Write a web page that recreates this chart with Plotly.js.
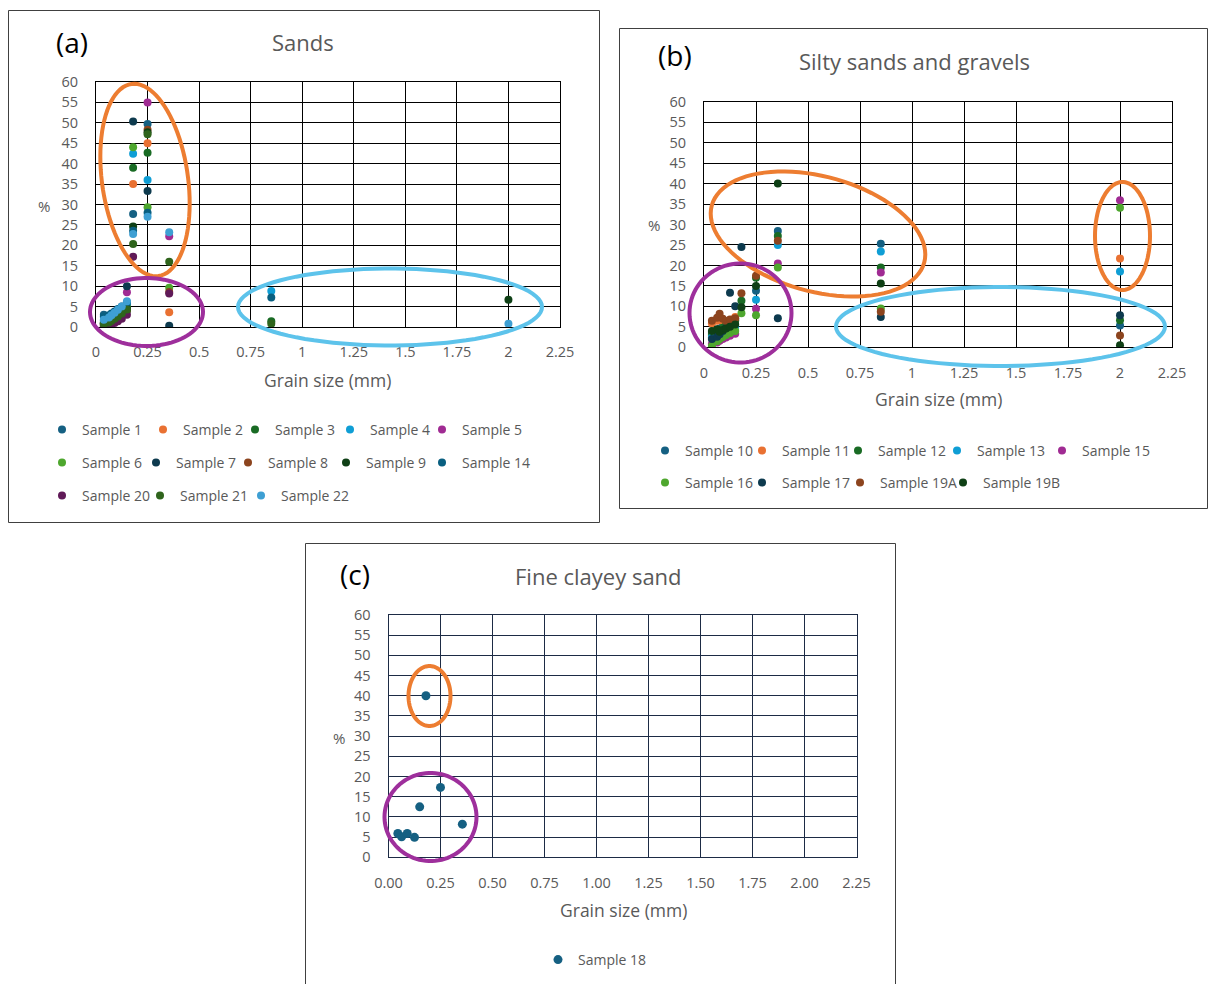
<!DOCTYPE html>
<html><head><meta charset="utf-8">
<script src="https://cdn.plot.ly/plotly-3.0.1.min.js"></script>
<style>html,body{margin:0;padding:0;background:#fff}#chart{width:1208px;height:984px}</style>
</head><body><div id="chart"></div>
<script>
const W = 1208, H = 984;
const FONT = "Open Sans, Liberation Sans, sans-serif";
const GRAY = "#595959";

// ---------- Panel (a) Sands ----------
const sizesA = [0.038, 0.063, 0.075, 0.09, 0.106, 0.125, 0.15, 0.18, 0.25, 0.355, 0.85, 2];
const namesA = ["Sample 1","Sample 2","Sample 3","Sample 4","Sample 5","Sample 6","Sample 7","Sample 8","Sample 9","Sample 14","Sample 20","Sample 21","Sample 22"];
const sample1  = [3.0, 2.0, 2.4, 2.8, 3.3, 4.1, 5.2, 27.7, 49.7, null, null, null];
const sample2  = [1.2, 1.5, 1.9, 2.4, 2.8, 3.5, 4.5, 35.0, 45.0, 3.6, null, null];
const sample3  = [0.8, 1.2, 1.6, 2.1, 2.6, 3.2, 4.0, 39.0, 42.7, null, 1.4, null];
const sample4  = [1.5, 2.0, 2.6, 3.2, 3.9, 4.6, 5.8, 42.4, 36.0, null, 8.8, null];
const sample5  = [0.4, 0.7, 1.0, 1.4, 2.0, 3.0, 8.5, null, 55.0, 22.2, null, null];
const sample6  = [1.0, 1.4, 1.9, 2.5, 3.0, 3.8, 4.8, 44.0, 29.3, 9.6, null, null];
const sample7  = [0.9, 1.3, 1.8, 2.4, 3.2, 4.5, 10.0, 50.3, 33.3, 0.3, null, null];
const sample8  = [0.6, 0.9, 1.3, 1.8, 2.4, 3.1, 4.2, null, 48.3, 8.6, null, null];
const sample9  = [1.0, 1.4, 1.8, 2.3, 2.9, 3.6, 4.6, 24.6, 47.7, null, null, 6.7];
const sample14 = [2.5, 2.9, 3.3, 3.8, 4.4, 5.0, 6.0, 23.6, 28.0, null, 7.2, null];
const sample20 = [0.2, 0.4, 0.7, 1.0, 1.4, 2.0, 3.0, 17.2, null, 8.2, null, null];
const sample21 = [0.7, 1.1, 1.5, 2.0, 2.6, 3.3, 4.3, 20.3, 47.2, 16.0, 0.8, null];
const sample22 = [1.8, 2.3, 2.9, 3.5, 4.2, 5.0, 6.3, 22.8, 27.0, 23.2, null, 0.8];
const valuesA = [sample1, sample2, sample3, sample4, sample5, sample6, sample7, sample8, sample9, sample14, sample20, sample21, sample22];

// ---------- Panel (b) Silty sands and gravels ----------
const sizesB = [0.038, 0.063, 0.075, 0.09, 0.106, 0.125, 0.15, 0.18, 0.25, 0.355, 0.85, 2];
const namesB = ["Sample 10","Sample 11","Sample 12","Sample 13","Sample 15","Sample 16","Sample 17","Sample 19A","Sample 19B"];
const sample10  = [3.5, 4.0, 4.6, 5.0, 5.5, 6.0, 6.8, null, 13.8, 28.4, 25.3, 5.3];
const sample11  = [5.8, 6.5, 7.2, 6.4, 6.0, 6.6, 7.4, null, null, null, null, 21.7];
const sample12  = [3.0, 3.6, 4.2, 4.8, 5.3, 5.9, 6.5, 11.4, 17.0, 27.2, 19.5, 6.6];
const sample13  = [2.4, 2.8, 3.2, 3.6, 4.0, 4.5, 5.0, null, 11.6, 25.0, 23.4, 18.5];
const sample15  = [0.8, 1.2, 1.6, 2.0, 2.4, 2.8, 3.3, null, 9.4, 20.5, 18.3, 35.9];
const sample16  = [0.3, 1.5, 2.0, 2.5, 3.0, 3.5, 4.0, 8.3, 7.8, 19.5, 9.5, 34.1];
const sample17  = [2.0, 2.6, 3.2, 4.0, 4.8, 13.3, 10.0, 24.5, null, 7.1, 7.4, 7.8];
const sample19A = [6.5, 7.2, 8.2, 7.0, 6.4, 6.8, 7.1, 13.2, 17.5, 26.0, 8.7, 2.9];
const sample19B = [4.0, 4.4, 3.8, 4.2, 4.6, 5.0, 5.6, 9.8, 15.0, 40.0, 15.6, 0.5];
const valuesB = [sample10, sample11, sample12, sample13, sample15, sample16, sample17, sample19A, sample19B];

// ---------- Panel (c) Fine clayey sand ----------
const sizesC = [0.045, 0.063, 0.09, 0.125, 0.15, 0.18, 0.25, 0.355];
const sample18 = [5.9, 5.1, 5.9, 4.95, 12.5, 40.0, 17.3, 8.2];

const yTicks = [0, 5, 10, 15, 20, 25, 30, 35, 40, 45, 50, 55, 60];

// ---------- styles ----------
const colorsA = ["#156082","#E97132","#196B24","#0F9ED5","#A02B93","#4EA72E","#0D3A4E","#8C441E","#0F4016","#095F80","#601A58","#2F641C","#3E9FD3"];
const colorsB = ["#156082","#E97132","#196B24","#0F9ED5","#A02B93","#4EA72E","#0D3A4E","#8C441E","#0F4016"];
const legendA = ["legend","legend","legend","legend","legend","legend2","legend2","legend2","legend2","legend2","legend3","legend3","legend3"];
const legendB = ["legend4","legend4","legend4","legend4","legend4","legend5","legend5","legend5","legend5"];
const lwA = [56, 47, 50, 47, 90, 49, 47, 53, 51, 90, 53, 56, 90];
const lwB = [52, 51, 54, 60, 90, 52, 53, 58, 90];

const traces = [];
namesA.forEach((n, i) => traces.push({
  type: "scatter", mode: "markers", name: n, x: sizesA, y: valuesA[i],
  xaxis: "x", yaxis: "y", legend: legendA[i], legendwidth: lwA[i],
  marker: {size: 8, color: colorsA[i]}, hoverinfo: "skip"
}));
namesB.forEach((n, i) => traces.push({
  type: "scatter", mode: "markers", name: n, x: sizesB, y: valuesB[i],
  xaxis: "x2", yaxis: "y2", legend: legendB[i], legendwidth: lwB[i],
  marker: {size: 8, color: colorsB[i]}, hoverinfo: "skip"
}));
traces.push({
  type: "scatter", mode: "markers", name: "Sample 18", x: sizesC, y: sample18,
  xaxis: "x3", yaxis: "y3", legend: "legend6",
  marker: {size: 9, color: "#156082"}, hoverinfo: "skip"
});

function px(x) { return x / W; }
function py(y) { return 1 - y / H; }

function xAxis(l, r, anchor, grid, fmt) {
  return {
    domain: [px(l), px(r)], range: [0, 2.25], tick0: 0, dtick: 0.25, anchor: anchor,
    showgrid: true, gridcolor: grid, gridwidth: 1, zeroline: false,
    showline: true, linecolor: grid, linewidth: 1, mirror: true,
    ticks: "", ticklabelstandoff: 12, tickformat: fmt,
    tickfont: {family: FONT, size: 14.5, color: GRAY}, fixedrange: true
  };
}
function yAxis(top, bottom, anchor, grid) {
  return {
    domain: [py(bottom), py(top)], range: [0, 60], tickvals: yTicks, anchor: anchor,
    showgrid: true, gridcolor: grid, gridwidth: 1, zeroline: false,
    showline: true, linecolor: grid, linewidth: 1, mirror: true,
    ticks: "", ticklabelstandoff: 14,
    tickfont: {family: FONT, size: 14.5, color: GRAY}, fixedrange: true
  };
}

function ellipse(cx, cy, a, b, deg, color, w) {
  const r = deg * Math.PI / 180;
  let d = "";
  for (let i = 0; i <= 90; i++) {
    const t = i / 90 * 2 * Math.PI;
    const x = cx + a * Math.cos(t) * Math.cos(r) - b * Math.sin(t) * Math.sin(r);
    const y = cy + a * Math.cos(t) * Math.sin(r) + b * Math.sin(t) * Math.cos(r);
    d += (i ? "L" : "M") + px(x).toFixed(5) + "," + py(y).toFixed(5);
  }
  return {type: "path", xref: "paper", yref: "paper", path: d + "Z",
          line: {color: color, width: w}, layer: "above"};
}
function box(x0, y0, x1, y1) {
  return {type: "rect", xref: "paper", yref: "paper", x0: px(x0), x1: px(x1), y0: py(y1), y1: py(y0),
          line: {color: "#404040", width: 1}, layer: "below"};
}
const OR = "#ED7D31", PU = "#9E2F9C", BL = "#5DC3EB";
const shapes = [
  box(8.5, 10.5, 599.5, 522.5), box(619.5, 28.5, 1207.5, 508.5), box(305.5, 543.5, 895.5, 990),
  ellipse(145, 180, 97, 43, 82, OR, 4),
  ellipse(146.5, 312, 56.5, 34, 0, PU, 4),
  ellipse(390, 307, 152, 38.5, 0, BL, 4),
  ellipse(818, 234, 110, 57.6, 15, OR, 4),
  ellipse(1122.5, 236, 27.5, 54, 0, OR, 4),
  ellipse(740.5, 313, 51, 49.5, 0, PU, 4),
  ellipse(1000.5, 326.5, 164.5, 39.5, 0, BL, 4),
  ellipse(429.5, 696, 21, 30, 0, OR, 4),
  ellipse(430.5, 817, 46, 44, 0, PU, 4)
];

function ann(text, x, y, size, color) {
  return {text: text, xref: "paper", yref: "paper", x: px(x), y: py(y), xanchor: "center", yanchor: "middle",
          showarrow: false, font: {family: FONT, size: size, color: color}};
}
const annotations = [
  ann("(a)", 72, 42, 28, "#000"), ann("Sands", 303, 42, 22, GRAY),
  ann("(b)", 675, 55, 28, "#000"), ann("Silty sands and gravels", 914, 61, 22, GRAY),
  ann("(c)", 355, 574, 28, "#000"), ann("Fine clayey sand", 598, 576, 22, GRAY),
  ann("Grain size (mm)", 327, 380, 17.5, GRAY), ann("Grain size (mm)", 938, 399, 17.5, GRAY),
  ann("Grain size (mm)", 623, 910, 17.5, GRAY),
  ann("%", 44, 206, 15, GRAY), ann("%", 654, 225, 15, GRAY), ann("%", 339, 738, 15, GRAY)
];

function leg(x, y) {
  return {x: px(x), y: py(y), xanchor: "left", yanchor: "middle", orientation: "h",
          font: {family: FONT, size: 14, color: GRAY}, bgcolor: "rgba(0,0,0,0)",
          itemclick: false, itemdoubleclick: false, tracegroupgap: 0};
}

const layout = {
  width: W, height: H, margin: {l: 0, r: 0, t: 0, b: 0},
  paper_bgcolor: "#fff", plot_bgcolor: "#fff", showlegend: true,
  xaxis: xAxis(96, 560, "y", "#000", ""),
  yaxis: yAxis(82, 327, "x", "#000"),
  xaxis2: xAxis(704, 1172, "y2", "#000", ""),
  yaxis2: yAxis(101.7, 347.3, "x2", "#000"),
  xaxis3: xAxis(388.5, 856.5, "y3", "#1d2b45", ".2f"),
  yaxis3: yAxis(615, 857.3, "x3", "#1d2b45"),
  legend: leg(42, 430), legend2: leg(42, 463), legend3: leg(42, 496),
  legend4: leg(645, 451), legend5: leg(645, 483), legend6: leg(538, 960),
  shapes: shapes, annotations: annotations
};

Plotly.newPlot("chart", traces, layout, {displayModeBar: false, staticPlot: true});
</script>
</body></html>
